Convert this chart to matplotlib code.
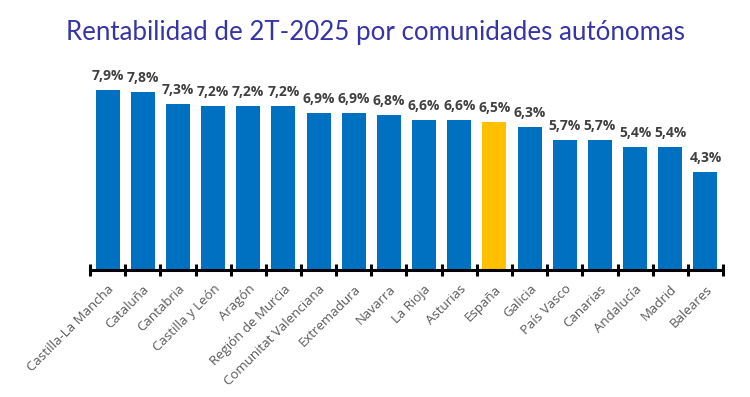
import matplotlib
matplotlib.use("Agg")
import matplotlib.pyplot as plt
import numpy as np

# ---------------- data ----------------
regions = ["Castilla-La Mancha", "Cataluña", "Cantabria", "Castilla y León",
           "Aragón", "Región de Murcia", "Comunitat Valenciana", "Extremadura",
           "Navarra", "La Rioja", "Asturias", "España", "Galicia", "País Vasco",
           "Canarias", "Andalucía", "Madrid", "Baleares"]
rentab = [7.9, 7.8, 7.3, 7.2, 7.2, 7.2, 6.9, 6.9, 6.8, 6.6, 6.6, 6.5,
          6.3, 5.7, 5.7, 5.4, 5.4, 4.3]
highlight = "España"

BLUE = "#0070C0"
YELLOW = "#FFC000"

fig = plt.figure(figsize=(7.5, 3.97), dpi=100)
ax = fig.add_axes([0.12, 0.32, 0.844, 0.516])

x = np.arange(len(regions))
colors = [YELLOW if r == highlight else BLUE for r in regions]
ax.bar(x, rentab, width=0.68, color=colors, zorder=2)

for xi, v in zip(x, rentab):
    ax.annotate(f"{v:.1f}%".replace(".", ","), (xi, v), xytext=(0, 5),
                textcoords="offset points", ha="center", va="bottom",
                fontsize=10, fontweight="bold", color="#404040",
                family="Open Sans")

ax.set_xlim(-0.5, len(regions) - 0.5)
ax.set_ylim(0, 9)

for s in ["top", "right", "left"]:
    ax.spines[s].set_visible(False)
ax.spines["bottom"].set_linewidth(2.2)
ax.spines["bottom"].set_color("black")
ax.set_yticks([])

ax.set_xticks(x)
ax.set_xticklabels(regions, rotation=45, ha="right", rotation_mode="anchor",
                   fontsize=9.5, color="#595959", family="Open Sans")
ax.tick_params(axis="x", which="major", length=0, pad=9)
ax.set_xticks(np.arange(-0.5, len(regions)), minor=True)
ax.tick_params(axis="x", which="minor", direction="inout", length=8,
               width=2.2, color="black")

fig.text(0.5, 0.918, "Rentabilidad de 2T-2025 por comunidades autónomas",
         ha="center", va="center", fontsize=18.6, color="#3535A8", family="Lato")

fig.savefig("out.png", dpi=100)
